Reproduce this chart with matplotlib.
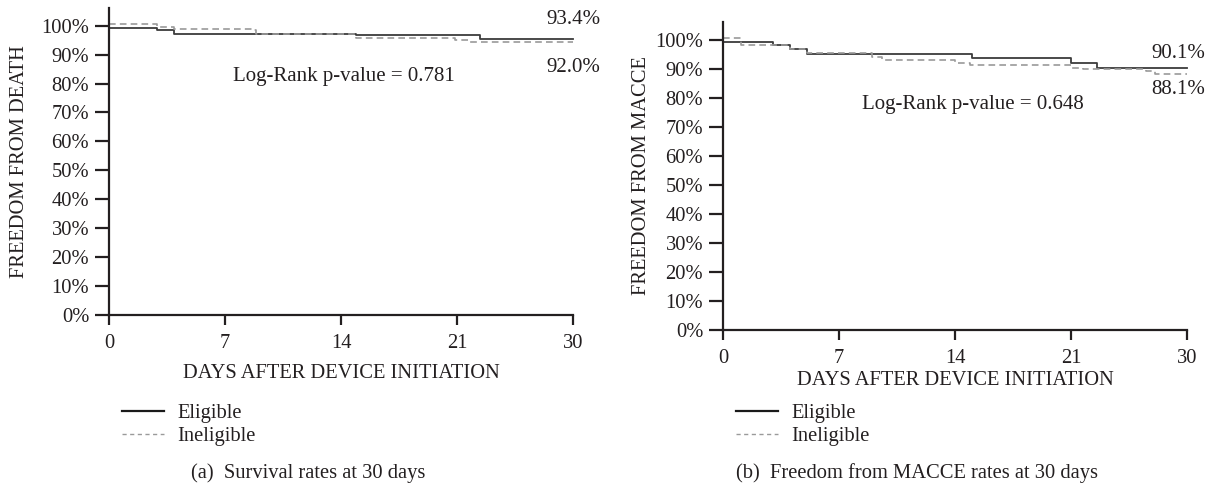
import numpy as np
import matplotlib
matplotlib.use('Agg')
import matplotlib.pyplot as plt
from matplotlib.lines import Line2D

# 曲线数据 (天数, 百分比)
death_days_elig = [0, 2.9, 3.9, 14.9, 22.8, 30]
death_rate_elig = [99.1, 98.4, 97.3, 96.8, 95.4, 95.4]
death_days_inel = [0, 2.9, 3.9, 8.6, 8.9, 14.9, 20.9, 21.9, 30]
death_rate_inel = [100.6, 99.6, 98.9, 98.4, 97.3, 95.8, 95.0, 94.3, 94.3]

macce_days_elig = [0, 3.0, 4.05, 5.05, 15.0, 21.0, 23.0, 30]
macce_rate_elig = [99.4, 98.2, 96.8, 95.2, 93.8, 92.0, 90.4, 90.4]
macce_days_inel = [0, 1.1, 4.05, 5.05, 9.0, 9.6, 14.0, 14.9, 21.0, 21.9, 26.8, 27.5, 30]
macce_rate_inel = [100.6, 98.4, 96.8, 95.6, 94.0, 93.1, 92.2, 91.5, 90.4, 90.0, 89.3, 88.2, 88.2]

day_ticks = [0, 7, 14, 21, 30]
pct_ticks = list(range(0, 101, 10))
end_labels_death = ['93.4%', '92.0%']
end_labels_macce = ['90.1%', '88.1%']
pvalue_death = 'Log-Rank p-value = 0.781'
pvalue_macce = 'Log-Rank p-value = 0.648'

TXT = '#231f20'
FS = 14.8
plt.rcParams['font.family'] = ['Liberation Serif', 'DejaVu Serif']
plt.rcParams['font.size'] = FS
plt.rcParams['text.color'] = TXT
plt.rcParams['axes.labelcolor'] = TXT
plt.rcParams['xtick.color'] = TXT
plt.rcParams['ytick.color'] = TXT
plt.rcParams['xtick.direction'] = 'out'
plt.rcParams['ytick.direction'] = 'out'


# 21 天以后的刻度间距被压缩 (21 -> 30 与 14 -> 21 等宽)
def fwd(x):
    x = np.asarray(x, dtype=float)
    return np.where(x <= 21, x, 21 + (x - 21) * 7 / 9)


def inv(u):
    u = np.asarray(u, dtype=float)
    return np.where(u <= 21, u, 21 + (u - 21) * 9 / 7)


W, H = 1212, 495
fig = plt.figure(figsize=(W / 100, H / 100), dpi=100)


def make_axes(x0, x1, y0, ytop, y100):
    ax = fig.add_axes([x0 / W, (H - y0) / H, (x1 - x0) / W, (y0 - ytop) / H])
    ax.set_xscale('function', functions=(fwd, inv))
    ax.set_xlim(0, 30)
    ax.set_ylim(0, 100 * (y0 - ytop) / (y0 - y100))
    ax.spines['top'].set_visible(False)
    ax.spines['right'].set_visible(False)
    for s in ['left', 'bottom']:
        ax.spines[s].set_linewidth(1.6)
        ax.spines[s].set_color(TXT)
    ax.set_xticks(day_ticks)
    ax.set_xticklabels([str(d) for d in day_ticks])
    ax.set_yticks(pct_ticks)
    ax.set_yticklabels([f'{p}%' for p in pct_ticks])
    ax.tick_params(axis='x', length=7.2, width=1.6, pad=6.5)
    ax.tick_params(axis='y', length=10, width=1.6, pad=4.3)
    ax.patch.set_alpha(0)
    return ax


def draw_panel(ax, de, re_, di, ri, ylabel, labels, ptext, lab_y, p_xy, lab_x, xpad, ypad):
    ax.step(de, re_, where='post', color='#3c3c3c', lw=1.3, clip_on=False)
    ax.step(di, ri, where='post', color='#9a9a9a', lw=1.2, ls=(0, (4, 2.5)), clip_on=False)
    ax.set_xlabel('DAYS AFTER DEVICE INITIATION', labelpad=xpad)
    ax.set_ylabel(ylabel, labelpad=ypad)
    ax.text(lab_x, lab_y[0], labels[0], ha='center', va='center', fontsize=15)
    ax.text(lab_x, lab_y[1], labels[1], ha='center', va='center', fontsize=15)
    ax.text(p_xy[0], p_xy[1], ptext, ha='center', va='center', fontsize=15)


ax1 = make_axes(109, 573, 315, 8, 25.7)
draw_panel(ax1, death_days_elig, death_rate_elig, death_days_inel, death_rate_inel,
           'FREEDOM FROM DEATH', end_labels_death, pvalue_death,
           (102.0, 85.7), (14.2, 82.3), 30, 8, 8.6)

ax2 = make_axes(723, 1187, 330, 22, 40)
draw_panel(ax2, macce_days_elig, macce_rate_elig, macce_days_inel, macce_rate_inel,
           'FREEDOM FROM MACCE', end_labels_macce, pvalue_macce,
           (95.5, 82.8), (15.05, 77.6), 29.3, 2, 3)

handles = [Line2D([], [], color='#1a1a1a', lw=1.6),
           Line2D([], [], color='#9a9a9a', lw=1.0, ls=(0, (3, 2.5)))]
for lx in [122, 736]:
    fig.legend(handles, ['Eligible', 'Ineligible'], loc='upper left',
               bbox_to_anchor=(lx / W, 1 - 404 / H), bbox_transform=fig.transFigure,
               frameon=False, handlelength=2.05, handletextpad=0.63,
               labelspacing=0.15, borderpad=0, borderaxespad=0, fontsize=FS)

fig.text(308 / W, 1 - 473 / H, '(a)  Survival rates at 30 days', ha='center', va='center', fontsize=FS)
fig.text(917 / W, 1 - 473 / H, '(b)  Freedom from MACCE rates at 30 days', ha='center', va='center', fontsize=FS)

fig.savefig('out.png', dpi=100)
